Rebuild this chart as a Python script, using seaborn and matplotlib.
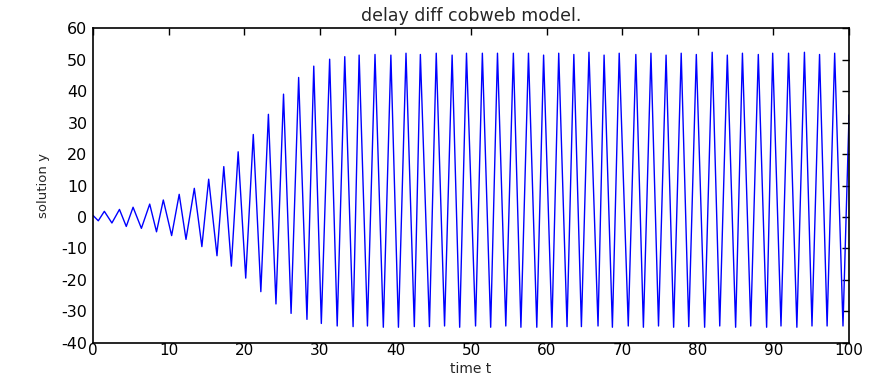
import matplotlib
matplotlib.use("Agg")
import matplotlib.pyplot as plt
import seaborn as sns
import pandas as pd

# Turning points of the solution (time, value)
t_early = [0.0, 0.7, 1.5, 2.5, 3.5, 4.4, 5.3, 6.4, 7.5, 8.4, 9.3, 10.4, 11.4, 12.3,
           13.4, 14.4, 15.3, 16.4, 17.3, 18.3, 19.2, 20.2, 21.2, 22.2, 23.2, 24.2,
           25.2, 26.2, 27.2, 28.3, 29.2, 30.2, 31.3, 32.3]
y_early = [0.5, -1.2, 1.8, -1.9, 2.4, -3.0, 3.1, -3.6, 4.1, -4.7, 5.4, -5.9, 7.2, -7.1,
           9.1, -9.4, 12.0, -12.3, 16.0, -15.6, 20.7, -19.4, 26.2, -23.7, 32.6, -27.6,
           39.0, -30.6, 44.3, -32.5, 47.9, -33.8, 50.1, -34.6]

peak_t = [33.3, 35.2, 37.3, 39.4, 41.4, 43.3, 45.4, 47.5, 49.4, 51.5, 53.5, 55.6,
          57.6, 59.6, 61.6, 63.6, 65.6, 67.6, 69.6, 71.8, 73.8, 75.8,
          77.8, 79.8, 81.9, 83.9, 85.9, 88.0, 89.9, 92.0, 94.1, 96.1, 98.1]
peak_y = [50.9, 51.4, 51.6, 51.4, 52.0, 51.6, 52.0, 51.4, 52.0, 52.0, 52.0, 52.0,
          52.0, 51.4, 52.0, 51.6, 52.3, 51.4, 52.0, 51.6, 52.0, 51.4,
          52.0, 51.6, 52.3, 51.4, 52.0, 51.6, 52.0, 52.0, 52.3, 51.6, 52.0]
trough_t = [34.4, 36.3, 38.4, 40.4, 42.5, 44.5, 46.5, 48.5, 50.6, 52.6, 54.6,
            56.6, 58.7, 60.7, 62.7, 64.6, 66.8, 68.7, 70.8, 72.8, 74.8, 76.8,
            78.8, 80.9, 82.9, 85.0, 87.0, 89.1, 91.0, 93.1, 95.1, 97.1, 99.2]
trough_y = [-34.8, -34.6, -35.0, -35.0, -34.8, -34.8, -34.6, -35.0, -34.6, -35.0, -34.6,
            -35.0, -35.0, -35.0, -34.8, -34.8, -34.6, -35.0, -34.6, -35.0, -34.6, -35.0,
            -34.8, -35.0, -34.6, -35.0, -34.6, -35.0, -34.6, -35.0, -34.6, -34.6, -34.6]
t_end = [100.0]
y_end = [32.4]

xticks = list(range(0, 101, 10))
yticks = list(range(-40, 61, 10))

# assemble the series
t_sat, y_sat = [], []
for i in range(len(peak_t)):
    t_sat.append(peak_t[i]); y_sat.append(peak_y[i])
    if i < len(trough_t):
        t_sat.append(trough_t[i]); y_sat.append(trough_y[i])
df = pd.DataFrame({"t": t_early + t_sat + t_end, "y": y_early + y_sat + y_end})

sns.set_style("white")
plt.rcParams["font.family"] = ["DejaVu Sans"]
plt.rcParams["axes.unicode_minus"] = False

fig = plt.figure(figsize=(8.7, 3.77), dpi=100)
ax = fig.add_axes([0.1069, 0.0902, 0.8690, 0.8355])
sns.lineplot(data=df, x="t", y="y", ax=ax, color="#0000ff", linewidth=1.0,
             estimator=None, sort=False)

ax.set_xlim(0, 100)
ax.set_ylim(-40, 60)
ax.set_xticks(xticks)
ax.set_yticks(yticks)
ax.tick_params(direction="in", length=5, width=1, top=True, right=True,
               labelsize=11.5, colors="black", pad=4)
ax.tick_params(axis="x", labelsize=11, pad=0)
for s in ax.spines.values():
    s.set_visible(True)
    s.set_color("black")
    s.set_linewidth(1.2)
ax.set_xlabel("time t", fontsize=10)
ax.xaxis.set_label_coords(0.5, -0.106, transform=ax.transAxes)
ax.xaxis.label.set_va("bottom")
ax.set_ylabel("solution y", fontsize=9.5, labelpad=8)
ax.set_title("delay diff cobweb model.", fontsize=12.5, pad=5)

fig.savefig("out.png", dpi=100, facecolor="white")
